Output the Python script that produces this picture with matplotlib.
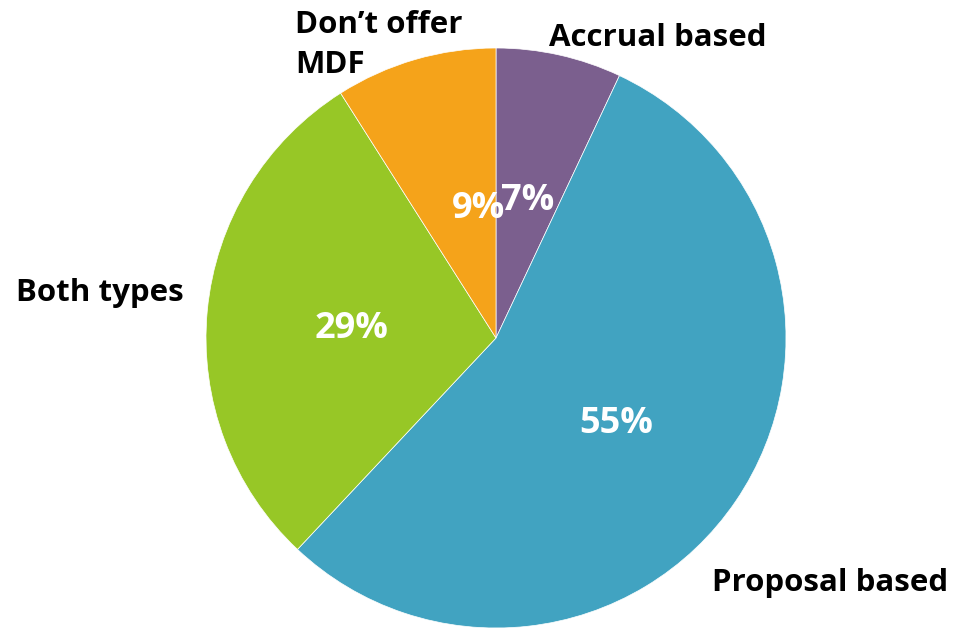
import matplotlib
matplotlib.use("Agg")
import matplotlib.pyplot as plt

labels = ["Accrual based", "Proposal based", "Both types", "Don\u2019t offer\nMDF"]
values = [7, 55, 29, 9]
colors = ["#7B5F8E", "#41A3C1", "#97C726", "#F5A31A"]

# label spots (in pie radius units)
label_pos = [(0.559, 1.034, "center"), (1.152, -0.845, "center"),
             (-1.366, 0.155, "center"), (-0.693, 1.010, "left")]

plt.rcParams['font.family'] = ['Open Sans', 'DejaVu Sans']

fig = plt.figure(figsize=(9.54, 6.3), dpi=100)
ax = fig.add_axes([206 / 954, 2 / 630, 580 / 954, 580 / 630])

wedges, texts, autotexts = ax.pie(
    values, labels=labels, colors=colors, startangle=90, counterclock=False,
    autopct=lambda p: "{:.0f}%".format(p), pctdistance=0.5,
    wedgeprops=dict(edgecolor="white", linewidth=0.5),
    textprops=dict(fontweight="bold"))

for t, (x, y, ha) in zip(texts, label_pos):
    t.set_position((x, y))
    t.set_ha(ha)
    t.set_va("center")
    t.set_fontsize(22.5)
    t.set_color("black")
    t.set_linespacing(1.45)

for t in autotexts:
    t.set_color("white")
    t.set_fontsize(26)
    x, y = t.get_position()
    t.set_position((x, y - 0.015))

# the small 9% label sits nearer the middle line in the reference
autotexts[3].set_position((-0.062, 0.445))

ax.set_xlim(-1, 1)
ax.set_ylim(-1, 1)
ax.set_aspect("equal")

fig.savefig("out.png", dpi=100)
